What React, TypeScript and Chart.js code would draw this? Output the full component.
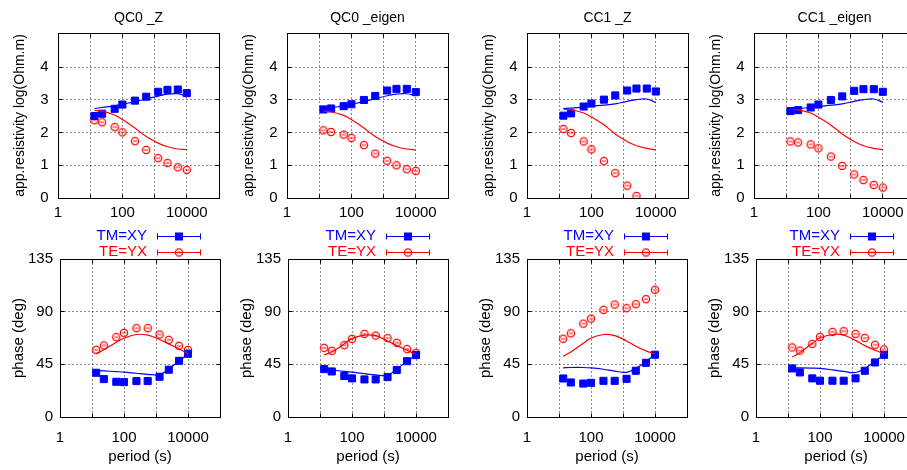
import React, { useEffect, useRef } from 'react';
import { Chart, registerables } from 'chart.js';

Chart.register(...registerables);

const FONT = '"Liberation Sans", Arial, Helvetica, sans-serif';
const BLUE = 'rgb(0,0,255)';
const RED = 'rgb(255,0,0)';
const GRID = 'rgba(0,0,0,0.45)';

// ---------- data ----------
const PERIODS = [13.5, 23.4, 57.5, 100, 245, 550, 1290, 2510, 5250, 10000];
const X_TICKS = [1, 10, 100, 1000, 10000, 100000];
const X_LABELS = ['1', '', '100', '', '10000', ''];
const RHO_TICKS = [0, 1, 2, 3, 4];
const PHASE_TICKS = [0, 45, 90, 135];
const TITLES = ['QC0 _Z', 'QC0 _eigen', 'CC1 _Z', 'CC1 _eigen'];
const LEGEND_LABELS = ['TM=XY', 'TE=YX'];

// QC0 _Z
const QC0Z_RHO_TM_OBS = [2.51, 2.58, 2.73, 2.86, 2.98, 3.10, 3.25, 3.31, 3.32, 3.21];
const QC0Z_RHO_TM_MOD = [2.74, 2.77, 2.82, 2.87, 2.95, 3.03, 3.12, 3.18, 3.19, 3.12];
const QC0Z_RHO_TE_OBS = [2.38, 2.32, 2.17, 2.01, 1.74, 1.47, 1.22, 1.07, 0.94, 0.86];
const QC0Z_RHO_TE_MOD = [2.68, 2.66, 2.54, 2.40, 2.14, 1.88, 1.68, 1.57, 1.50, 1.48];
const QC0Z_PHS_TM_OBS = [37.8, 32.4, 30.1, 29.8, 30.7, 30.7, 34.4, 40.4, 48.0, 54.0];
const QC0Z_PHS_TM_MOD = [39.8, 39.4, 38.8, 38.4, 37.4, 36.5, 36.2, 41.0, 47.8, 53.5];
const QC0Z_PHS_TE_OBS = [57.4, 61.1, 68.2, 71.9, 75.9, 75.9, 70.5, 65.9, 60.8, 57.4];
const QC0Z_PHS_TE_MOD = [54.0, 57.4, 63.9, 67.3, 70.5, 70.0, 66.2, 62.5, 58.3, 54.0];

// QC0 _eigen
const QC0E_RHO_TM_OBS = [2.71, 2.74, 2.81, 2.87, 3.00, 3.12, 3.29, 3.34, 3.34, 3.24];
const QC0E_RHO_TM_MOD = [2.72, 2.76, 2.82, 2.87, 2.95, 3.04, 3.13, 3.18, 3.19, 3.13];
const QC0E_RHO_TE_OBS = [2.07, 2.02, 1.94, 1.84, 1.62, 1.36, 1.14, 1.00, 0.88, 0.83];
const QC0E_RHO_TE_MOD = [2.66, 2.64, 2.53, 2.40, 2.14, 1.88, 1.68, 1.57, 1.50, 1.47];
const QC0E_PHS_TM_OBS = [40.9, 38.9, 35.0, 33.0, 32.1, 32.1, 34.1, 40.1, 47.7, 52.9];
const QC0E_PHS_TM_MOD = [40.5, 40.0, 39.0, 38.3, 37.0, 36.0, 35.8, 41.0, 47.5, 53.0];
const QC0E_PHS_TE_OBS = [59.1, 56.6, 61.4, 66.8, 71.0, 69.6, 67.4, 63.4, 58.0, 54.8];
const QC0E_PHS_TE_MOD = [53.1, 55.5, 62.5, 67.0, 70.0, 69.5, 65.0, 61.0, 57.0, 53.5];

// CC1 _Z
const CC1Z_RHO_TM_OBS = [2.52, 2.59, 2.80, 2.89, 3.01, 3.14, 3.29, 3.35, 3.35, 3.26];
const CC1Z_RHO_TM_MOD = [2.74, 2.75, 2.78, 2.81, 2.84, 2.88, 2.96, 3.01, 3.03, 2.92];
const CC1Z_RHO_TE_OBS = [2.11, 1.99, 1.73, 1.49, 1.13, 0.76, 0.38, 0.06, null, null];
const CC1Z_RHO_TE_MOD = [2.72, 2.70, 2.60, 2.48, 2.24, 1.96, 1.73, 1.60, 1.52, 1.47];
const CC1Z_PHS_TM_OBS = [32.9, 29.5, 28.6, 29.2, 30.9, 30.9, 32.6, 39.5, 46.3, 53.2];
const CC1Z_PHS_TM_MOD = [42.0, 42.3, 42.3, 42.0, 40.8, 39.2, 38.2, 41.5, 47.5, 53.5];
const CC1Z_PHS_TE_OBS = [66.9, 71.5, 79.8, 84.1, 91.5, 96.1, 93.0, 96.4, 100.7, 108.7];
const CC1Z_PHS_TE_MOD = [51.8, 55.5, 63.0, 67.5, 70.5, 69.5, 65.0, 60.5, 56.5, 54.0];

// CC1 _eigen
const CC1E_RHO_TM_OBS = [2.66, 2.69, 2.77, 2.86, 3.00, 3.11, 3.28, 3.33, 3.33, 3.25];
const CC1E_RHO_TM_MOD = [2.73, 2.74, 2.77, 2.80, 2.84, 2.88, 2.96, 3.01, 3.03, 2.93];
const CC1E_RHO_TE_OBS = [1.73, 1.70, 1.64, 1.52, 1.27, 0.98, 0.72, 0.55, 0.40, 0.32];
const CC1E_RHO_TE_MOD = [2.72, 2.70, 2.60, 2.47, 2.23, 1.96, 1.73, 1.60, 1.52, 1.48];
const CC1E_PHS_TM_OBS = [41.5, 38.1, 33.0, 31.0, 31.0, 31.0, 33.0, 39.5, 46.6, 53.1];
const CC1E_PHS_TM_MOD = [42.0, 42.0, 41.8, 41.5, 40.3, 39.0, 38.0, 41.5, 47.5, 53.5];
const CC1E_PHS_TE_OBS = [59.4, 56.8, 62.5, 68.5, 72.7, 73.3, 71.0, 67.6, 61.7, 57.7];
const CC1E_PHS_TE_MOD = [51.2, 55.0, 63.0, 67.5, 70.5, 70.0, 65.5, 61.0, 57.0, 54.0];

type Series = { tmObs: (number | null)[]; tmMod: number[]; teObs: (number | null)[]; teMod: number[] };

const RHO_SERIES: Series[] = [
  { tmObs: QC0Z_RHO_TM_OBS, tmMod: QC0Z_RHO_TM_MOD, teObs: QC0Z_RHO_TE_OBS, teMod: QC0Z_RHO_TE_MOD },
  { tmObs: QC0E_RHO_TM_OBS, tmMod: QC0E_RHO_TM_MOD, teObs: QC0E_RHO_TE_OBS, teMod: QC0E_RHO_TE_MOD },
  { tmObs: CC1Z_RHO_TM_OBS, tmMod: CC1Z_RHO_TM_MOD, teObs: CC1Z_RHO_TE_OBS, teMod: CC1Z_RHO_TE_MOD },
  { tmObs: CC1E_RHO_TM_OBS, tmMod: CC1E_RHO_TM_MOD, teObs: CC1E_RHO_TE_OBS, teMod: CC1E_RHO_TE_MOD },
];
const PHS_SERIES: Series[] = [
  { tmObs: QC0Z_PHS_TM_OBS, tmMod: QC0Z_PHS_TM_MOD, teObs: QC0Z_PHS_TE_OBS, teMod: QC0Z_PHS_TE_MOD },
  { tmObs: QC0E_PHS_TM_OBS, tmMod: QC0E_PHS_TM_MOD, teObs: QC0E_PHS_TE_OBS, teMod: QC0E_PHS_TE_MOD },
  { tmObs: CC1Z_PHS_TM_OBS, tmMod: CC1Z_PHS_TM_MOD, teObs: CC1Z_PHS_TE_OBS, teMod: CC1Z_PHS_TE_MOD },
  { tmObs: CC1E_PHS_TM_OBS, tmMod: CC1E_PHS_TM_MOD, teObs: CC1E_PHS_TE_OBS, teMod: CC1E_PHS_TE_MOD },
];

// ---------- layout ----------
const TOP_PLOT_LEFT = [58, 287, 527, 754];
const BOT_PLOT_LEFT = [60, 288, 527, 756];
const LEGEND_OFFSET = [73, 72, 73, 76];

function pts(vals: (number | null)[]) {
  return PERIODS.map((p, i) => ({ x: p, y: vals[i] }));
}

function makeCircle(): HTMLCanvasElement {
  const c = document.createElement('canvas');
  c.width = 10;
  c.height = 10;
  const g = c.getContext('2d')!;
  g.strokeStyle = RED;
  g.lineWidth = 1.3;
  g.beginPath();
  g.arc(5, 5, 3.6, 0, Math.PI * 2);
  g.stroke();
  g.lineWidth = 1;
  g.beginPath();
  g.moveTo(3, 5);
  g.lineTo(7, 5);
  g.stroke();
  return c;
}

function align(p: number) {
  return Math.round(p - 0.5) + 0.5;
}

const framePlugin = {
  id: 'frame',
  afterDraw(chart: any) {
    const { ctx, chartArea: a, scales } = chart;
    const l = align(a.left), r = align(a.right), t = align(a.top), b = align(a.bottom);
    ctx.save();
    ctx.strokeStyle = '#000';
    ctx.lineWidth = 1;
    ctx.setLineDash([]);
    ctx.beginPath();
    const tl = 4;
    scales.x.ticks.forEach((tk: any) => {
      const px = align(scales.x.getPixelForValue(tk.value));
      ctx.moveTo(px, b); ctx.lineTo(px, b - tl);
      ctx.moveTo(px, t); ctx.lineTo(px, t + tl);
    });
    scales.y.ticks.forEach((tk: any) => {
      const py = align(scales.y.getPixelForValue(tk.value));
      ctx.moveTo(l, py); ctx.lineTo(l + tl, py);
      ctx.moveTo(r, py); ctx.lineTo(r - tl, py);
    });
    ctx.stroke();
    ctx.strokeRect(l, t, r - l, b - t);
    ctx.restore();
  },
};

function makeLegendPlugin(offset: number, circle: HTMLCanvasElement) {
  return {
    id: 'gnuLegend',
    afterDraw(chart: any) {
      const { ctx, chartArea } = chart;
      const xr = chartArea.right - offset;
      const ys = [30.5, 46.5];
      ctx.save();
      ctx.font = `15px ${FONT}`;
      ctx.textAlign = 'right';
      ctx.textBaseline = 'middle';
      LEGEND_LABELS.forEach((label, i) => {
        const color = i === 0 ? BLUE : RED;
        const y = ys[i];
        ctx.fillStyle = color;
        ctx.fillText(label, xr, y);
        const x1 = Math.round(xr + 10) + 0.5;
        const x2 = Math.round(xr + 52.5) + 0.5;
        const yl = Math.round(y) + 0.5;
        ctx.strokeStyle = color;
        ctx.lineWidth = 1;
        ctx.beginPath();
        ctx.moveTo(x1, yl); ctx.lineTo(x2, yl);
        ctx.moveTo(x1, yl - 3); ctx.lineTo(x1, yl + 3);
        ctx.moveTo(x2, yl - 3); ctx.lineTo(x2, yl + 3);
        ctx.stroke();
        const xm = Math.round((x1 + x2) / 2);
        if (i === 0) {
          ctx.fillStyle = BLUE;
          ctx.fillRect(xm - 4, Math.round(y) - 3.5, 8, 8);
        } else {
          ctx.drawImage(circle, xm - 5, Math.round(y) - 4.5, 10, 10);
        }
      });
      ctx.restore();
    },
  };
}

type PanelProps = { col: number; row: 0 | 1 };

function Panel({ col, row }: PanelProps) {
  const ref = useRef<HTMLCanvasElement>(null);
  const isPhase = row === 1;
  const yW = isPhase ? 60 : 58;
  const plotW = isPhase ? 160 : 161;
  const padR = 14;
  const left = (isPhase ? BOT_PLOT_LEFT[col] : TOP_PLOT_LEFT[col]) - yW;
  const top = isPhase ? 205 : 0;
  const width = yW + plotW + padR;
  const height = isPhase ? 265 : 226;
  const xH = isPhase ? 53 : 28;

  useEffect(() => {
    const circle = makeCircle();
    const s = isPhase ? PHS_SERIES[col] : RHO_SERIES[col];
    const yTicks = isPhase ? PHASE_TICKS : RHO_TICKS;
    const plugins: any[] = [framePlugin];
    if (isPhase) plugins.push(makeLegendPlugin(LEGEND_OFFSET[col], circle));
    const chart = new Chart(ref.current!, {
      type: 'line',
      data: {
        datasets: [
          { label: 'TM model', data: pts(s.tmMod), borderColor: BLUE, borderWidth: 1.2, pointRadius: 0, tension: 0.4, fill: false },
          { label: 'TE model', data: pts(s.teMod), borderColor: RED, borderWidth: 1.2, pointRadius: 0, tension: 0.4, fill: false },
          { label: LEGEND_LABELS[0], data: pts(s.tmObs), showLine: false, pointStyle: 'rect', pointRadius: 5, borderWidth: 1, borderColor: BLUE, backgroundColor: BLUE },
          { label: LEGEND_LABELS[1], data: pts(s.teObs), showLine: false, pointStyle: circle as any, pointRadius: 4, borderWidth: 0, borderColor: RED, backgroundColor: 'transparent' },
        ] as any,
      },
      options: {
        responsive: false,
        animation: false,
        events: [],
        layout: { padding: { top: isPhase ? 54 : 0, right: padR, left: 0, bottom: 0 } },
        plugins: {
          legend: { display: false },
          tooltip: { enabled: false },
          title: {
            display: !isPhase,
            text: TITLES[col],
            fullSize: false,
            color: '#000',
            font: { family: FONT, size: 14, weight: 'normal' },
            padding: { top: 10, bottom: 6.2 },
          },
        },
        scales: {
          x: {
            type: 'logarithmic',
            min: 1,
            max: 100000,
            afterBuildTicks: (sc: any) => { sc.ticks = X_TICKS.map((v) => ({ value: v })); },
            afterFit: (sc: any) => { sc.height = xH; },
            ticks: {
              autoSkip: false,
              maxRotation: 0,
              padding: isPhase ? 11.7 : 5.7,
              color: '#000',
              font: { family: FONT, size: 15 },
              callback: (v: any) => { const i = X_TICKS.indexOf(Number(v)); return i >= 0 ? X_LABELS[i] : ''; },
            },
            grid: { color: GRID, lineWidth: 1, drawTicks: false },
            border: { display: false, dash: [2, 2] },
            title: {
              display: isPhase,
              text: 'period (s)',
              color: '#000',
              font: { family: FONT, size: 15 },
              padding: { top: 0, bottom: 4 },
            },
          },
          y: {
            type: 'linear',
            min: 0,
            max: isPhase ? 135 : 5.05,
            afterBuildTicks: (sc: any) => { sc.ticks = yTicks.map((v) => ({ value: v })); },
            afterFit: (sc: any) => { sc.width = yW; },
            ticks: {
              autoSkip: false,
              padding: isPhase ? 7 : 9.5,
              color: '#000',
              font: { family: FONT, size: 15 },
              callback: (v: any) => String(v),
            },
            grid: { color: GRID, lineWidth: 1, drawTicks: false },
            border: { display: false, dash: [2, 2] },
            title: {
              display: true,
              text: isPhase ? 'phase (deg)' : 'app.resistivity log(Ohm.m)',
              color: '#000',
              font: { family: FONT, size: isPhase ? 15 : 14 },
              padding: { top: isPhase ? 10.3 : 11.6, bottom: 0 },
            },
          },
        },
      } as any,
      plugins,
    });
    return () => chart.destroy();
  }, []);

  return (
    <canvas
      ref={ref}
      width={width}
      height={height}
      style={{ position: 'absolute', left, top, width, height }}
    />
  );
}

export default function App() {
  const cols = [0, 1, 2, 3];
  return (
    <div style={{ position: 'fixed', left: 0, top: 0, width: 907, height: 470, overflow: 'hidden', background: '#fff' }}>
      {cols.map((c) => <Panel key={'t' + c} col={c} row={0} />)}
      {cols.map((c) => <Panel key={'b' + c} col={c} row={1} />)}
    </div>
  );
}
